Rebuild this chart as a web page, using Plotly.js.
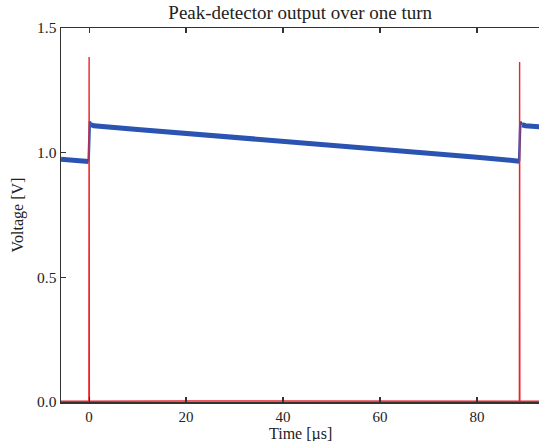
<!DOCTYPE html>
<html><head><meta charset="utf-8">
<script src="https://cdn.plot.ly/plotly-3.0.1.min.js"></script>
<style>html,body{margin:0;padding:0;overflow:hidden;background:#fff}</style>
</head><body>
<div id="chart" style="width:539px;height:441px"></div>
<script>
// Blue: peak-detector output plateaus; null marks the jump gaps
const blueTime = [-5.8, -3, -0.1, null, 0.4, 1, 10, 20, 30, 40, 50, 60, 70, 80, 88.7, null, 89.3, 90, 93];
const blueVolt = [0.974, 0.970, 0.965, null, 1.112, 1.108, 1.093, 1.078, 1.062, 1.046, 1.030, 1.014, 0.998, 0.982, 0.966, null, 1.112, 1.108, 1.104];
// Blue: the fast rises at each revolution marker
const jumpTime = [-0.1, 0.0, 0.15, 0.4, null, 88.7, 88.8, 88.95, 89.3];
const jumpVolt = [0.965, 1.05, 1.125, 1.112, null, 0.966, 1.05, 1.125, 1.112];
// Red: raw signal with revolution spikes
const redTime = [-5.8, -0.05, 0, 0.05, 20, 40, 60, 80, 88.75, 88.8, 88.85, 93];
const redVolt = [0.003, 0.003, 1.384, 0.003, 0.004, 0.003, 0.004, 0.003, 0.003, 1.364, 0.003, 0.003];

const xTicks = [0, 20, 40, 60, 80];
const yTicks = [0.0, 0.5, 1.0, 1.5];
const yTickText = ['0.0', '0.5', '1.0', '1.5'];
const xTitle = 'Time [µs]';

const font = {family: '"Liberation Serif", "DejaVu Serif", serif', color: '#222'};
const f = s => Object.assign({size: s}, font);

Plotly.newPlot('chart', [
  {x: blueTime, y: blueVolt, type: 'scatter', mode: 'lines', connectgaps: false,
   line: {color: '#2a53b2', width: 5}, hoverinfo: 'skip'},
  {x: jumpTime, y: jumpVolt, type: 'scatter', mode: 'lines', connectgaps: false,
   line: {color: '#2a53b2', width: 2.5}, hoverinfo: 'skip'},
  {x: redTime, y: redVolt, type: 'scatter', mode: 'lines',
   line: {color: '#e8242c', width: 1.4}, hoverinfo: 'skip'}
], {
  width: 539, height: 441,
  margin: {l: 61, r: 0, t: 28, b: 39},
  showlegend: false,
  paper_bgcolor: '#fff', plot_bgcolor: '#fff',
  font: f(16),
  title: {text: 'Peak-detector output over one turn', font: f(19),
          x: 0.557, xanchor: 'center', y: 0.972, yanchor: 'middle'},
  xaxis: {range: [-5.8, 92.8], tickvals: xTicks, ticktext: xTicks.map(String),
          showgrid: false, zeroline: false, showline: true, linecolor: '#333', linewidth: 1.5,
          mirror: 'ticks', ticks: 'inside', ticklen: 5, tickcolor: '#333', tickwidth: 1.2,
          tickfont: f(15), automargin: false},
  yaxis: {range: [0, 1.5], tickvals: yTicks, ticktext: yTickText,
          showgrid: false, zeroline: false, showline: true, linecolor: '#333', linewidth: 1.5,
          mirror: false, ticks: 'inside', ticklen: 5, tickcolor: '#333', tickwidth: 1.2,
          tickfont: f(15.5),
          title: {text: 'Voltage [V]', font: f(16), standoff: 9}},
  annotations: [{text: xTitle, xref: 'paper', yref: 'paper', x: 0.5, y: -0.086,
                 xanchor: 'center', yanchor: 'middle', showarrow: false, font: f(16)}]
}, {staticPlot: true, displayModeBar: false});
</script>
</body></html>
